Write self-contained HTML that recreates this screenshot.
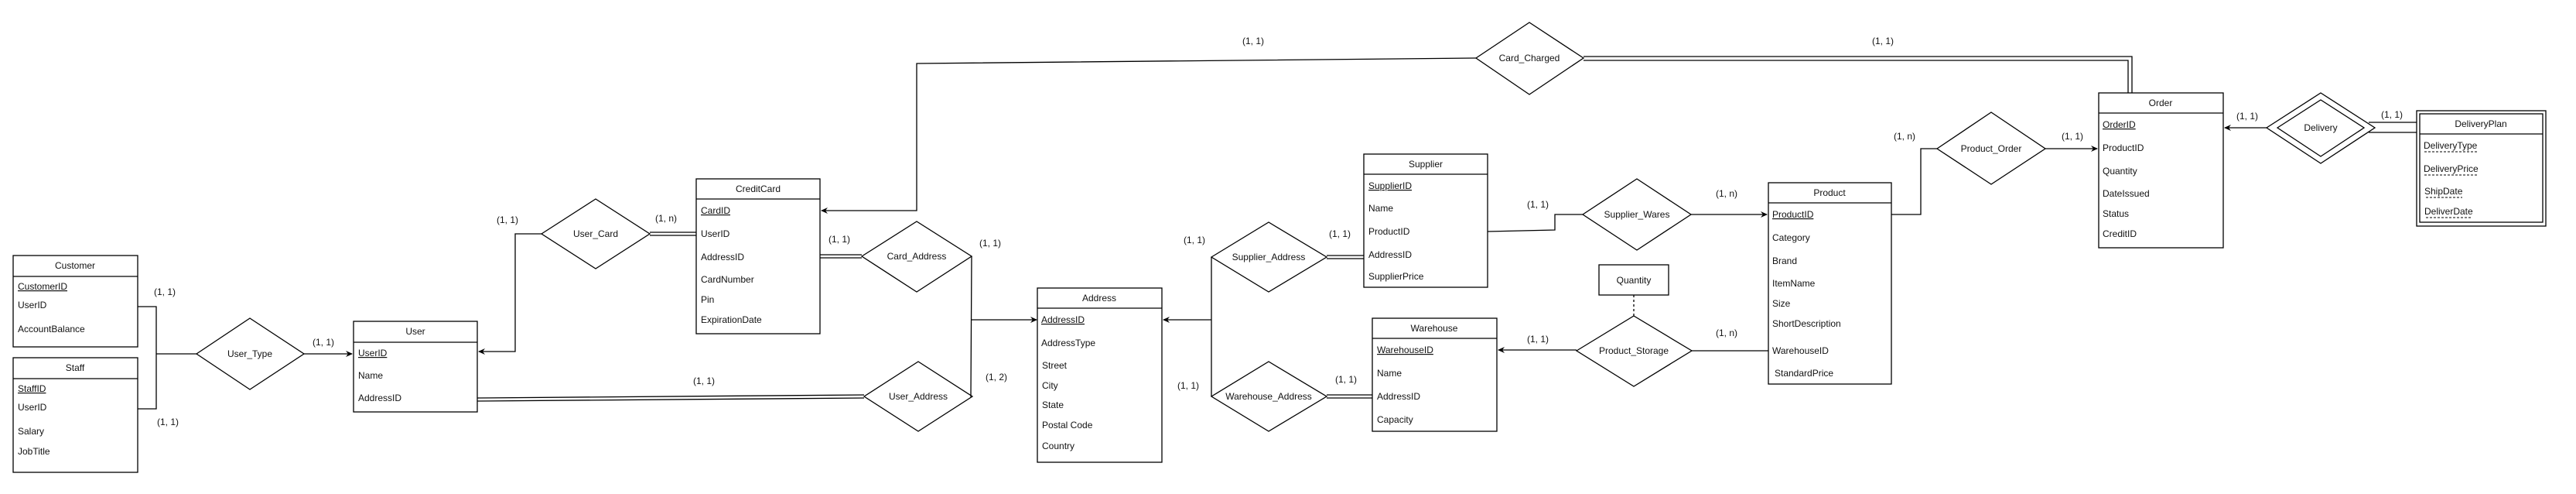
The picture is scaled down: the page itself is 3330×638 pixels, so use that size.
<!DOCTYPE html>
<html><head><meta charset="utf-8"><style>
html,body{margin:0;padding:0;background:#fff;}
svg{display:block;}
text{font-family:"Liberation Sans",Arial,sans-serif;font-size:12px;fill:#111;}
.t{text-anchor:middle;}
</style></head><body>
<svg width="3330" height="638" viewBox="0 0 3330 638" xmlns="http://www.w3.org/2000/svg">
<defs><marker id="a" markerWidth="10" markerHeight="10" refX="8" refY="5" orient="auto" markerUnits="userSpaceOnUse"><path d="M0,1 L9,5 L0,9 L3,5 z" fill="#000"/></marker></defs>
<g fill="none" stroke="#000" stroke-width="1.3">
<!-- Entities -->
<rect x="17" y="330" width="161" height="118"/><line x1="17" y1="357" x2="178" y2="357"/>
<rect x="17" y="462" width="161" height="148"/><line x1="17" y1="489" x2="178" y2="489"/>
<rect x="457" y="415" width="160" height="117"/><line x1="457" y1="442" x2="617" y2="442"/>
<rect x="900" y="231" width="160" height="200"/><line x1="900" y1="257" x2="1060" y2="257"/>
<rect x="1341" y="372" width="161" height="225"/><line x1="1341" y1="398" x2="1502" y2="398"/>
<rect x="1763" y="199" width="160" height="172"/><line x1="1763" y1="225" x2="1923" y2="225"/>
<rect x="1774" y="411" width="161" height="146"/><line x1="1774" y1="437" x2="1935" y2="437"/>
<rect x="2286" y="236" width="159" height="260"/><line x1="2286" y1="262" x2="2445" y2="262"/>
<rect x="2067" y="342" width="90" height="39"/>
<rect x="2713" y="120" width="161" height="200"/><line x1="2713" y1="146" x2="2874" y2="146"/>
<rect x="3124" y="143" width="167" height="149"/><rect x="3128" y="147" width="159" height="140"/><line x1="3128" y1="173" x2="3287" y2="173"/>
<!-- Diamonds -->
<polygon points="254,457 323,411 393,457 323,503"/>
<polygon points="700,302 770,257 840,302 770,347"/>
<polygon points="1114,331 1185,286 1256,331 1185,377"/>
<polygon points="1117,512 1187,467 1257,512 1187,557"/>
<polygon points="1566,332 1640,287 1715,332 1640,377"/>
<polygon points="1566,512 1640,467 1715,512 1640,557"/>
<polygon points="2046,277 2116,231 2186,277 2116,323"/>
<polygon points="2038,453 2112,408 2187,453 2112,499"/>
<polygon points="2504,192 2574,145 2644,192 2574,238"/>
<polygon points="1908,75 1977,29 2047,75 1977,122"/>
<polygon points="2930,165 3000,120 3070,165 3000,211"/>
<polygon points="2944,165 3000,129 3056,165 3000,202"/>
<!-- Connectors -->
<polyline points="178,396 202,396 202,528 178,528"/>
<line x1="202" y1="457" x2="254" y2="457"/>
<line x1="393" y1="457" x2="455" y2="457" marker-end="url(#a)"/>
<polyline points="700,302 666,302 666,454 619,454" marker-end="url(#a)"/>
<line x1="840" y1="300" x2="900" y2="300"/><line x1="840" y1="304" x2="900" y2="304"/>
<line x1="1060" y1="329" x2="1114" y2="329"/><line x1="1060" y1="333" x2="1114" y2="333"/>
<line x1="617" y1="514" x2="1117" y2="510"/><line x1="617" y1="518" x2="1117" y2="514"/>
<polyline points="1256,331 1255,512 1257,512"/>
<line x1="1255" y1="413" x2="1340" y2="413" marker-end="url(#a)"/>
<polyline points="1566,332 1566,512"/>
<line x1="1566" y1="413" x2="1504" y2="413" marker-end="url(#a)"/>
<line x1="1715" y1="330" x2="1763" y2="330"/><line x1="1715" y1="334" x2="1763" y2="334"/>
<line x1="1715" y1="510" x2="1774" y2="510"/><line x1="1715" y1="514" x2="1774" y2="514"/>
<polyline points="1923,299 2010,297 2010,277 2046,277"/>
<line x1="2186" y1="277" x2="2284" y2="277" marker-end="url(#a)"/>
<line x1="2038" y1="452" x2="1937" y2="452" marker-end="url(#a)"/>
<line x1="2187" y1="453" x2="2286" y2="453"/>
<line x1="2112" y1="381" x2="2112" y2="408" stroke-dasharray="3,3"/>
<polyline points="2445,277 2483,277 2483,192 2504,192"/>
<line x1="2644" y1="192" x2="2711" y2="192" marker-end="url(#a)"/>
<polyline points="1908,75 1185,82 1185,272 1062,272" marker-end="url(#a)"/>
<polyline points="2047,73 2756,73 2756,120"/>
<polyline points="2047,78 2751,78 2751,120"/>
<line x1="2930" y1="165" x2="2876" y2="165" marker-end="url(#a)"/>
<line x1="3062" y1="158" x2="3124" y2="158"/><line x1="3062" y1="171" x2="3124" y2="171"/>
<!-- dashed underlines -->
<g stroke-dasharray="3,2" stroke-width="1"><line x1="3134" y1="196" x2="3202" y2="196"/><line x1="3134" y1="226" x2="3203" y2="226"/><line x1="3136" y1="255" x2="3183" y2="255"/><line x1="3136" y1="281" x2="3194" y2="281"/></g>
</g>
<!-- Titles -->
<text class="t" x="97" y="347">Customer</text>
<text class="t" x="97" y="479">Staff</text>
<text class="t" x="537" y="432">User</text>
<text class="t" x="980" y="248">CreditCard</text>
<text class="t" x="1421" y="389">Address</text>
<text class="t" x="1843" y="216">Supplier</text>
<text class="t" x="1854" y="428">Warehouse</text>
<text class="t" x="2365" y="253">Product</text>
<text class="t" x="2112" y="366">Quantity</text>
<text class="t" x="2793" y="137">Order</text>
<text class="t" x="3207" y="164">DeliveryPlan</text>
<!-- Diamond labels -->
<text class="t" x="323" y="461">User_Type</text>
<text class="t" x="770" y="306">User_Card</text>
<text class="t" x="1185" y="335">Card_Address</text>
<text class="t" x="1187" y="516">User_Address</text>
<text class="t" x="1640" y="336">Supplier_Address</text>
<text class="t" x="1640" y="516">Warehouse_Address</text>
<text class="t" x="2116" y="281">Supplier_Wares</text>
<text class="t" x="2112" y="457">Product_Storage</text>
<text class="t" x="2574" y="196">Product_Order</text>
<text class="t" x="1977" y="79">Card_Charged</text>
<text class="t" x="3000" y="169">Delivery</text>
<!-- Attributes -->
<g>
<text x="23" y="374" text-decoration="underline">CustomerID</text><text x="23" y="398">UserID</text><text x="23" y="429">AccountBalance</text>
<text x="23" y="506" text-decoration="underline">StaffID</text><text x="23" y="530">UserID</text><text x="23" y="561">Salary</text><text x="23" y="587">JobTitle</text>
<text x="463" y="460" text-decoration="underline">UserID</text><text x="463" y="489">Name</text><text x="463" y="518">AddressID</text>
<text x="906" y="276" text-decoration="underline">CardID</text><text x="906" y="306">UserID</text><text x="906" y="336">AddressID</text><text x="906" y="365">CardNumber</text><text x="906" y="391">Pin</text><text x="906" y="417">ExpirationDate</text>
<text x="1346" y="417" text-decoration="underline">AddressID</text><text x="1346" y="447">AddressType</text><text x="1347" y="476">Street</text><text x="1347" y="502">City</text><text x="1347" y="527">State</text><text x="1347" y="553">Postal Code</text><text x="1347" y="580">Country</text>
<text x="1769" y="244" text-decoration="underline">SupplierID</text><text x="1769" y="273">Name</text><text x="1769" y="303">ProductID</text><text x="1769" y="333">AddressID</text><text x="1769" y="361">SupplierPrice</text>
<text x="1780" y="456" text-decoration="underline">WarehouseID</text><text x="1780" y="486">Name</text><text x="1780" y="516">AddressID</text><text x="1780" y="546">Capacity</text>
<text x="2291" y="281" text-decoration="underline">ProductID</text><text x="2291" y="311">Category</text><text x="2291" y="341">Brand</text><text x="2291" y="370">ItemName</text><text x="2291" y="396">Size</text><text x="2291" y="422">ShortDescription</text><text x="2291" y="457">WarehouseID</text><text x="2294" y="486">StandardPrice</text>
<text x="2718" y="165" text-decoration="underline">OrderID</text><text x="2718" y="195">ProductID</text><text x="2718" y="225">Quantity</text><text x="2718" y="254">DateIssued</text><text x="2718" y="280">Status</text><text x="2718" y="306">CreditID</text>
<text x="3133" y="192">DeliveryType</text><text x="3133" y="222">DeliveryPrice</text><text x="3134" y="251">ShipDate</text><text x="3134" y="277">DeliverDate</text>
</g>
<!-- Cardinalities -->
<g class="c">
<text class="t" x="213" y="381">(1, 1)</text>
<text class="t" x="217" y="549">(1, 1)</text>
<text class="t" x="418" y="446">(1, 1)</text>
<text class="t" x="656" y="288">(1, 1)</text>
<text class="t" x="861" y="286">(1, n)</text>
<text class="t" x="1085" y="313">(1, 1)</text>
<text class="t" x="1280" y="318">(1, 1)</text>
<text class="t" x="910" y="496">(1, 1)</text>
<text class="t" x="1288" y="491">(1, 2)</text>
<text class="t" x="1544" y="314">(1, 1)</text>
<text class="t" x="1732" y="306">(1, 1)</text>
<text class="t" x="1536" y="502">(1, 1)</text>
<text class="t" x="1740" y="494">(1, 1)</text>
<text class="t" x="1988" y="268">(1, 1)</text>
<text class="t" x="1988" y="442">(1, 1)</text>
<text class="t" x="2232" y="254">(1, n)</text>
<text class="t" x="2232" y="434">(1, n)</text>
<text class="t" x="2462" y="180">(1, n)</text>
<text class="t" x="2679" y="180">(1, 1)</text>
<text class="t" x="1620" y="57">(1, 1)</text>
<text class="t" x="2434" y="57">(1, 1)</text>
<text class="t" x="2905" y="154">(1, 1)</text>
<text class="t" x="3092" y="152">(1, 1)</text>
</g>
</svg>
</body></html>
